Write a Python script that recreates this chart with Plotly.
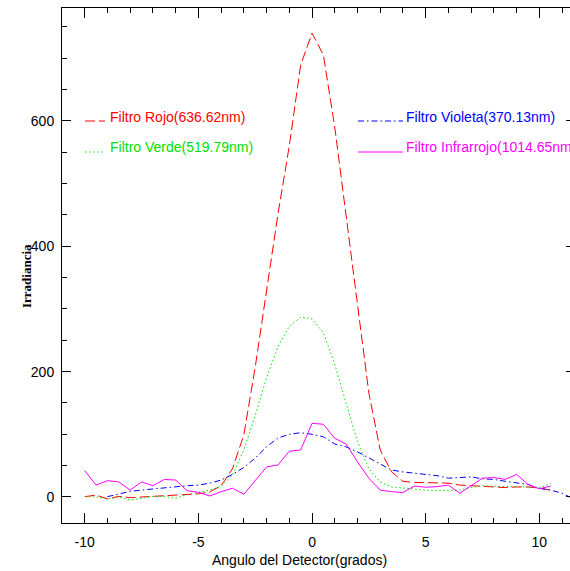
import plotly.graph_objects as go

# ---------------- data ----------------
angle = [-10, -9.5, -9, -8.5, -8, -7.5, -7, -6.5, -6, -5.5, -5, -4.5, -4, -3.5, -3, -2.5,
         -2, -1.5, -1, -0.5, 0, 0.5, 1, 1.5, 2, 2.5, 3, 3.5, 4, 4.5, 5, 5.5, 6, 6.5, 7,
         7.5, 8, 8.5, 9, 9.5, 10, 10.5]

angle_violeta = [-9, -8.5, -8, -7.5, -7, -6.5, -6, -5.5, -5, -4.5, -4, -3.5, -3, -2.5,
                 -2, -1.5, -1, -0.5, 0, 0.5, 1, 1.5, 2, 2.5, 3, 3.5, 4, 4.5, 5, 5.5, 6,
                 6.5, 7, 7.5, 8, 8.5, 9, 9.5, 10, 10.5, 11, 11.5]

rojo = [0.5, 3, -3, 1, -1, 0, 2, 2, 3, 4, 5, 8, 18, 45, 99, 207,
        330, 451, 560, 689, 740, 705, 590, 447, 300, 166, 75, 40, 25, 23, 23, 23, 22, 19, 18,
        17, 15, 15, 16, 16, 14, 11]

verde = [0.5, 0, -3, 0, -5, -2, 1, 1, -2, 4, 7, 11, 17, 35, 75, 130,
         190, 240, 272, 287, 284, 262, 212, 152, 88, 45, 24, 16, 14, 13, 11, 10, 10, 11, 15,
         18, 17, 17, 17, 16, 15, 21]

violeta = [0.5, 5, 9, 11, 13, 15, 16, 18, 19, 22, 27, 36, 47, 62,
           80, 94, 100, 102.5, 100, 96, 84.5, 80, 72, 62, 52, 43, 40, 38, 37, 34, 30,
           31, 32, 29, 28, 25, 22, 20, 14, 11, 6, -3]

infrarrojo = [42, 19, 26, 24, 11, 24, 18, 28, 27, 10, 7.5, 1.6, 8.5, 14, 4.3, 27,
              48, 51, 73, 75, 117.5, 116, 93.6, 84.5, 56, 30, 11, 8.5, 7, 17.5, 15.5, 16.5, 19, 6, 17.5,
              30, 31, 28, 36, 20, 13, 17.5]

names = ["Filtro Rojo(636.62nm)", "Filtro Verde(519.79nm)",
         "Filtro Violeta(370.13nm)", "Filtro Infrarrojo(1014.65nm)"]
colors = ["#FF0000", "#00E000", "#0000FF", "#FF00FF"]
dashes = ["10px,4px", "1.5px,2.5px", "6px,3px,1.5px,3px", "solid"]

x_tickvals = [-10, -5, 0, 5, 10]
x_ticktext = ["-10", "-5", "0", "5", "10"]
y_tickvals = [0, 200, 400, 600]
y_ticktext = ["0", "200", "400", "600"]

x_title = "Angulo del Detector(grados)"
y_title = "<b>Irradiancia</b>"

x_range = [-11, 11.35]
y_range = [-41.5, 780]

# ---------------- figure ----------------
W, H = 570, 571
ML, MT, MB, MR = 62, 8, 48, 0
fig = go.Figure()

series = [(angle, rojo), (angle, verde), (angle_violeta, violeta), (angle, infrarrojo)]
for (xs, ys), nm, c, d in zip(series, names, colors, dashes):
    fig.add_trace(go.Scatter(x=xs, y=ys, mode="lines", name=nm, hoverinfo="skip",
                             line=dict(color=c, width=1, dash=d), showlegend=False))

# invisible trace for right-side y ticks
fig.add_trace(go.Scatter(x=[None], y=[None], yaxis="y2", showlegend=False))

pw = W - ML - MR
ph = H - MT - MB


def px(xp):
    return (xp - ML) / pw


def py(yp):
    return (H - MB - yp) / ph


# legend (manual, like the original)
legend = [
    (85, 105, 121, 108, 117),
    (85, 105, 152, 108, 147),
    (358, 403, 121, 404, 117),
    (358, 403, 152, 404, 147),
]
for (x0, x1, ly, tx, ty), nm, c, d in zip(legend, names, colors, dashes):
    fig.add_shape(type="line", xref="paper", yref="paper",
                  x0=px(x0), x1=px(x1), y0=py(ly), y1=py(ly),
                  line=dict(color=c, width=1, dash=d))
    fig.add_annotation(xref="paper", yref="paper", x=px(tx), y=py(ty),
                       xanchor="left", yanchor="middle", showarrow=False,
                       text=nm, font=dict(family="Liberation Sans, Arial", size=14, color=c))

# axis titles
fig.add_annotation(xref="paper", yref="paper", x=px(299), y=py(560),
                   xanchor="center", yanchor="middle", showarrow=False,
                   text=x_title, font=dict(family="Liberation Sans, Arial", size=14, color="black"))
fig.add_annotation(xref="paper", yref="paper", x=px(26), y=py(276),
                   xanchor="center", yanchor="middle", showarrow=False, textangle=-90,
                   text=y_title, font=dict(family="Liberation Serif, Times New Roman", size=13, color="black"))

fig.update_layout(
    width=W, height=H,
    margin=dict(l=ML, r=MR, t=MT, b=MB, pad=0),
    paper_bgcolor="white", plot_bgcolor="white",
    hovermode=False,
    font=dict(family="Liberation Sans, Arial", size=14, color="black"),
    xaxis=dict(range=x_range, showgrid=False, zeroline=False, showline=True,
               linecolor="black", linewidth=1, mirror="ticks",
               ticks="inside", ticklen=10, tickcolor="black", tickwidth=1,
               tickmode="array", tickvals=x_tickvals, ticktext=x_ticktext,
               ticklabelstandoff=6,
               minor=dict(ticks="inside", ticklen=5, dtick=1, tick0=0, tickcolor="black")),
    yaxis=dict(range=y_range, showgrid=False, zeroline=False, showline=True,
               linecolor="black", linewidth=1, mirror=False,
               ticks="inside", ticklen=9, tickcolor="black", tickwidth=1,
               tickmode="array", tickvals=y_tickvals, ticktext=y_ticktext,
               ticklabelstandoff=4,
               minor=dict(ticks="inside", ticklen=5, dtick=50, tick0=0, tickcolor="black")),
    yaxis2=dict(range=y_range, overlaying="y", side="right", showgrid=False,
                zeroline=False, showline=False, showticklabels=False,
                ticks="inside", ticklen=4, tickcolor="black",
                tickmode="array", tickvals=y_tickvals),
)

fig.write_html("out.html",
               config={"displayModeBar": False, "staticPlot": True},
               post_script="document.body.style.margin='0';document.body.style.overflow='hidden';")
